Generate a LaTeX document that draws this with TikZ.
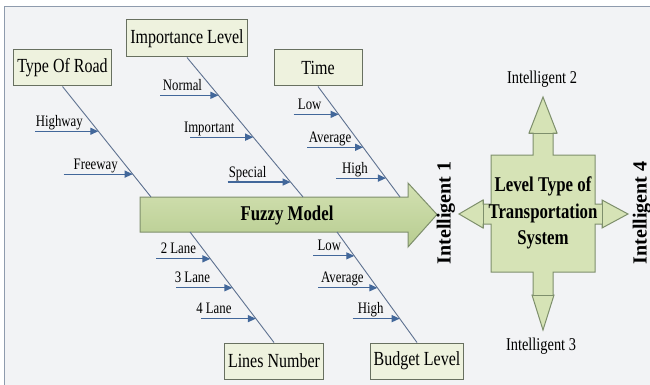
\documentclass[tikz,border=0pt]{standalone}
\usepackage{fontspec}
\setmainfont{Liberation Serif}
\usepackage{graphicx}
\usepackage{tikz}
\usetikzlibrary{arrows.meta,calc}

\newcommand{\narrow}[1]{\scalebox{0.8}[1]{#1}}

\definecolor{bgcol}{HTML}{F2F3F5}
\definecolor{framecol}{HTML}{8E9BAD}
\definecolor{boxfill}{HTML}{EEF2DE}
\definecolor{boxline}{HTML}{687060}
\definecolor{armfill}{HTML}{D6E3B6}
\definecolor{armline}{HTML}{7E8F6C}
\definecolor{fuzzytop}{HTML}{D3E1B2}
\definecolor{fuzzybot}{HTML}{B7CC90}
\definecolor{twigcol}{HTML}{42679A}
\definecolor{spinecol}{HTML}{5E7190}

\begin{document}
\begin{tikzpicture}[x=1pt,y=-1pt,
    cat/.style={draw=boxline,fill=boxfill,line width=1pt,minimum height=36pt,
        inner xsep=3.5pt,inner ysep=0pt,font=\fontsize{20}{24}\selectfont},
    lbl/.style={anchor=base,inner sep=0pt,font=\fontsize{16}{19}\selectfont},
    spine/.style={draw=spinecol,line width=0.9pt},
    twig/.style={draw=twigcol,line width=1.2pt,-{Triangle[length=8pt,width=7pt]}},
    intl/.style={inner sep=0pt,font=\fontsize{18}{22}\selectfont},
    introt/.style={inner sep=0pt,rotate=90,font=\bfseries\fontsize{20}{24}\selectfont}]

            \useasboundingbox (0,0) rectangle (650,385);
            \fill[bgcol] (4,6.5) rectangle (650,385);
            \draw[framecol,line width=1pt] (4,385) -- (4,6.5) -- (650,6.5);

            % fuzzy model arrow
            \path[draw=armline,line width=1pt,top color=fuzzytop,bottom color=fuzzybot]
                (140,197) -- (408,197) -- (408,183) -- (437,214.5) -- (408,247)
                -- (408,232) -- (140,232) -- cycle;
            \node[font=\bfseries\fontsize{21}{25}\selectfont] (fuzzy) at (287,215) {\narrow{Fuzzy Model}};
            \coordinate (r1) at (151,197);
            \coordinate (i1) at (303,197);
            \coordinate (t1) at (400,197);
            \coordinate (l1) at (190,232);
            \coordinate (b1) at (337,232);

            % level type cross
            \path[draw=armline,line width=1pt,fill=armfill]
                (491,155) -- (533,155) -- (533,133) -- (529,133) -- (543,97) -- (557,133)
                -- (553,133) -- (553,155) -- (595,155) -- (595,204) -- (602,204) -- (602,200)
                -- (628,214) -- (602,228) -- (602,224) -- (595,224) -- (595,272) -- (553,272)
                -- (553,295) -- (554,295) -- (543,330) -- (532,295) -- (533,295) -- (533,272)
                -- (491,272) -- (491,224) -- (483,224) -- (483,228) -- (459,214) -- (483,200)
                -- (483,204) -- (491,204) -- cycle;
            \draw[armline,line width=1pt] (529,133) -- (557,133) (532,295) -- (554,295)
                (483,200) -- (483,228) (602,200) -- (602,228);
            \node[font=\bfseries\fontsize{21}{26.5}\selectfont] (level) at (543,213)
                {\narrow{\begin{tabular}{@{}c@{}}Level Type of\\Transportation\\System\end{tabular}}};

            \node[intl] (int2) at (542,79) {\narrow{Intelligent 2}};
            \node[intl] (int3) at (541,346) {\narrow{Intelligent 3}};
            \node[introt] (int1) at (446,213) {Intelligent 1};
            \node[introt] (int4) at (642,213) {Intelligent 4};

            \begin{scope}[every node/.style={cat}]
                \node (road) at (62.5,68) {\narrow{Type Of Road}};
                \node[minimum height=37pt] (imp) at (187,38.5) {\narrow{Importance Level}};
                \node[minimum width=88pt] (time) at (318,68) {\narrow{Time}};
                \node (lines) at (274,361) {\narrow{Lines Number}};
                \node[minimum width=88pt] (budget) at (417,361) {\narrow{Budget Level}};
            \end{scope}

            \begin{scope}
                \path[spine] (road.south) -- (r1);
                \path[spine] (imp.south) -- (i1);
                \path[spine] (time.south) -- (t1);
                \path[spine] (l1) -- (lines.north);
                \path[spine] (b1) -- (budget.north);
            \end{scope}

            % cause arrows on each bone
            \foreach \t/\len/\dx/\txt [count=\i] in {0.405/63/-39/Highway,0.793/69/-37/Freeway} {
                \coordinate (road\i) at ($(road.south)!\t!(r1)$);
                \draw[twig] ([xshift=-\len pt]road\i) -- (road\i);
                \node[lbl] (roadlbl\i) at ([xshift=\dx pt,yshift=5pt]road\i) {\narrow{\txt}};
            }
            \foreach \t/\len/\dx/\txt [count=\i] in {0.271/58/-36/Normal,0.571/63/-44/Important,0.893/63/-43/Special} {
                \coordinate (imp\i) at ($(imp.south)!\t!(i1)$);
                \draw[twig] ([xshift=-\len pt]imp\i) -- (imp\i);
                \node[lbl] (implbl\i) at ([xshift=\dx pt,yshift=5pt]imp\i) {\narrow{\txt}};
            }
            \foreach \t/\len/\dx/\txt [count=\i] in {0.252/45/-29/Low,0.55/56/-33/Average,0.829/50/-31/High} {
                \coordinate (time\i) at ($(time.south)!\t!(t1)$);
                \draw[twig] ([xshift=-\len pt]time\i) -- (time\i);
                \node[lbl] (timelbl\i) at ([xshift=\dx pt,yshift=5pt]time\i) {\narrow{\txt}};
            }
            \foreach \t/\len/\dx/\txt [count=\i] in {0.243/54/-32/2 Lane,0.505/56/-40/3 Lane,0.784/55/-42/4 Lane} {
                \coordinate (lines\i) at ($(l1)!\t!(lines.north)$);
                \draw[twig] ([xshift=-\len pt]lines\i) -- (lines\i);
                \node[lbl] (lineslbl\i) at ([xshift=\dx pt,yshift=5pt]lines\i) {\narrow{\txt}};
            }
            \foreach \t/\len/\dx/\txt [count=\i] in {0.216/41/-25/Low,0.505/59/-35/Average,0.784/47/-29/High} {
                \coordinate (budget\i) at ($(b1)!\t!(budget.north)$);
                \draw[twig] ([xshift=-\len pt]budget\i) -- (budget\i);
                \node[lbl] (budgetlbl\i) at ([xshift=\dx pt,yshift=5pt]budget\i) {\narrow{\txt}};
            }
\end{tikzpicture}
\end{document}
